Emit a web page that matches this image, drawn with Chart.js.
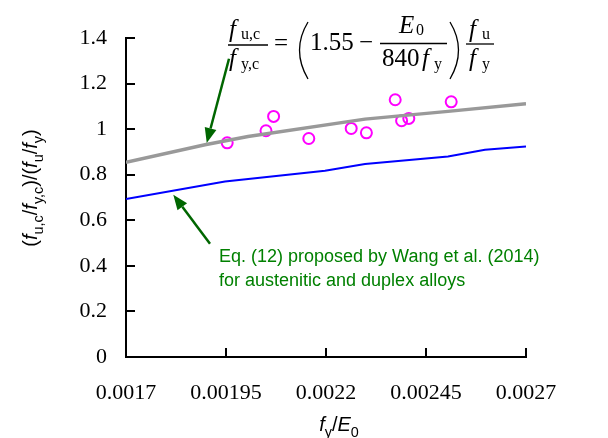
<!DOCTYPE html>
<html>
<head>
<meta charset="utf-8">
<script src="https://cdn.jsdelivr.net/npm/chart.js@4.4.1/dist/chart.umd.min.js"></script>
<style>
  html, body { margin: 0; padding: 0; background: #fff; }
  #wrap { width: 608px; height: 438px; }
</style>
</head>
<body>
<div id="wrap"><canvas id="myChart" width="608" height="438"></canvas></div>
<script>
// test results (f_y/E0 vs normalised ratio)
const testX = [0.001953, 0.00205, 0.002069, 0.002157, 0.002263, 0.002301, 0.002373, 0.002389, 0.002407, 0.002513];
const testY = [0.94, 0.993, 1.056, 0.959, 1.003, 0.984, 1.129, 1.037, 1.047, 1.12];

// proposed design curve (grey)
const newX = [0.0017, 0.0018975, 0.002005, 0.0022975, 0.002505, 0.0027];
const newY = [0.854, 0.9315, 0.968, 1.044, 1.078, 1.111];

// Wang et al. (2014) curve (blue)
const wangX = [0.0017, 0.0019475, 0.0021975, 0.0022975, 0.002505, 0.0025975, 0.0027];
const wangY = [0.693, 0.7705, 0.8175, 0.847, 0.880, 0.9096, 0.924];

const xTicks = [0.0017, 0.00195, 0.0022, 0.00245, 0.0027];
const xTickLabels = ['0.0017', '0.00195', '0.0022', '0.00245', '0.0027'];
const yTicks = [0, 0.2, 0.4, 0.6, 0.8, 1, 1.2, 1.4];
const yTickLabels = ['0', '0.2', '0.4', '0.6', '0.8', '1', '1.2', '1.4'];

// arrows: [tailX, tailY, tipX, tipY] in data units
const arrowNew = [0.0019575, 1.309, 0.0019018, 0.939];
const arrowWang = [0.00191, 0.497, 0.0018183, 0.712];

const pts = (xs, ys) => xs.map((x, i) => ({ x: x, y: ys[i] }));

const sans = '"Liberation Sans", Arial, sans-serif';
const serif = '"Liberation Serif", "Times New Roman", serif';

// draw a run of text pieces {t, it, sub}
function richText(ctx, parts, x, y, size, family, align) {
  const fontOf = p => (p.it ? 'italic ' : '') + (p.sub ? size * 0.72 : size) + 'px ' + family;
  let w = 0;
  parts.forEach(p => { ctx.font = fontOf(p); w += ctx.measureText(p.t).width; });
  let cx = align === 'center' ? x - w / 2 : x;
  ctx.textAlign = 'left';
  ctx.textBaseline = 'alphabetic';
  parts.forEach(p => {
    ctx.font = fontOf(p);
    ctx.fillText(p.t, cx, p.sub ? y + size * 0.28 : y);
    cx += ctx.measureText(p.t).width;
  });
  return w;
}

// single serif piece for the formula
function piece(ctx, str, x, y, size, italic) {
  ctx.font = (italic ? 'italic ' : '') + size + 'px ' + serif;
  ctx.textAlign = 'left';
  ctx.textBaseline = 'alphabetic';
  ctx.fillText(str, x, y);
}

function hline(ctx, x1, x2, y) {
  ctx.beginPath(); ctx.moveTo(x1, y); ctx.lineTo(x2, y); ctx.stroke();
}

function arrow(ctx, x1, y1, x2, y2) {
  const ang = Math.atan2(y2 - y1, x2 - x1);
  const len = 15, hw = 6;
  const bx = x2 - len * Math.cos(ang), by = y2 - len * Math.sin(ang);
  ctx.beginPath();
  ctx.moveTo(x1, y1);
  ctx.lineTo(bx, by);
  ctx.stroke();
  ctx.beginPath();
  ctx.moveTo(x2, y2);
  ctx.lineTo(bx + hw * Math.sin(ang), by - hw * Math.cos(ang));
  ctx.lineTo(bx - hw * Math.sin(ang), by + hw * Math.cos(ang));
  ctx.closePath();
  ctx.fill();
}

const extras = {
  id: 'extras',
  afterDraw(chart) {
    const ctx = chart.ctx;
    const xs = chart.scales.x, ys = chart.scales.y;
    const a = chart.chartArea;
    ctx.save();

    // inward tick marks
    ctx.strokeStyle = '#000';
    ctx.lineWidth = 2;
    xTicks.forEach(v => {
      const px = Math.round(xs.getPixelForValue(v));
      ctx.beginPath(); ctx.moveTo(px, a.bottom); ctx.lineTo(px, a.bottom - 9); ctx.stroke();
    });
    yTicks.forEach(v => {
      const py = Math.round(ys.getPixelForValue(v));
      ctx.beginPath(); ctx.moveTo(a.left, py); ctx.lineTo(a.left + 9, py); ctx.stroke();
    });

    // axis titles
    ctx.fillStyle = '#000';
    richText(ctx, [
      { t: 'f', it: true }, { t: 'y', sub: true }, { t: '/' }, { t: 'E', it: true }, { t: '0', sub: true }
    ], 339, 431, 20, sans, 'center');

    ctx.save();
    ctx.translate(37, 188);
    ctx.rotate(-Math.PI / 2);
    richText(ctx, [
      { t: '(' }, { t: 'f', it: true }, { t: 'u,c', sub: true }, { t: '/' },
      { t: 'f', it: true }, { t: 'y,c', sub: true }, { t: ')/(' },
      { t: 'f', it: true }, { t: 'u', sub: true }, { t: '/' },
      { t: 'f', it: true }, { t: 'y', sub: true }, { t: ')' }
    ], 0, 0, 20, sans, 'center');
    ctx.restore();

    // formula
    ctx.lineWidth = 1.3;
    piece(ctx, 'f', 229, 37, 25, true);
    piece(ctx, 'u,c', 241, 39, 16, false);
    hline(ctx, 228, 268, 45);
    piece(ctx, 'f', 229, 66, 25, true);
    piece(ctx, 'y,c', 241, 69, 16, false);
    piece(ctx, '=', 274, 51, 25, false);
    ctx.beginPath(); ctx.moveTo(308, 22); ctx.quadraticCurveTo(291, 50, 308, 79); ctx.stroke();
    piece(ctx, '1.55', 310, 50, 25, false);
    piece(ctx, '\u2212', 359, 50, 25, false);
    piece(ctx, 'E', 399, 33, 25, true);
    piece(ctx, '0', 416, 35, 16, false);
    hline(ctx, 380, 447, 43.5);
    piece(ctx, '840', 382, 66, 25, false);
    piece(ctx, 'f', 422, 66, 25, true);
    piece(ctx, 'y', 434, 69, 16, false);
    ctx.beginPath(); ctx.moveTo(450, 22); ctx.quadraticCurveTo(467, 50, 450, 79); ctx.stroke();
    piece(ctx, 'f', 469, 37, 25, true);
    piece(ctx, 'u', 482, 39, 16, false);
    hline(ctx, 466, 494, 44);
    piece(ctx, 'f', 469, 66, 25, true);
    piece(ctx, 'y', 482, 69, 16, false);

    // arrows
    ctx.strokeStyle = '#006600';
    ctx.fillStyle = '#006600';
    ctx.lineWidth = 2.5;
    [arrowNew, arrowWang].forEach(r => {
      arrow(ctx, xs.getPixelForValue(r[0]), ys.getPixelForValue(r[1]),
            xs.getPixelForValue(r[2]), ys.getPixelForValue(r[3]));
    });

    // label for Wang curve
    ctx.fillStyle = '#008000';
    ctx.font = '18px ' + sans;
    ctx.textAlign = 'left';
    ctx.fillText('Eq. (12) proposed by Wang et al. (2014)', 219, 262);
    ctx.fillText('for austenitic and duplex alloys', 219, 286);

    ctx.restore();
  }
};

const ctx = document.getElementById('myChart').getContext('2d');
new Chart(ctx, {
  type: 'scatter',
  data: {
    datasets: [
      {
        label: 'Wang',
        data: pts(wangX, wangY),
        showLine: true,
        borderColor: '#0000ff',
        borderWidth: 2,
        pointRadius: 0,
        tension: 0,
        fill: false
      },
      {
        label: 'Proposed',
        data: pts(newX, newY),
        showLine: true,
        borderColor: '#999999',
        borderWidth: 3.5,
        pointRadius: 0,
        tension: 0,
        fill: false
      },
      {
        label: 'Tests',
        data: pts(testX, testY),
        showLine: false,
        pointStyle: 'circle',
        pointRadius: 5.5,
        pointBorderWidth: 2,
        pointBorderColor: '#ff00ff',
        pointBackgroundColor: 'rgba(0,0,0,0)'
      }
    ]
  },
  options: {
    responsive: false,
    animation: false,
    layout: { padding: { left: 0, right: 82, top: 38, bottom: 0 } },
    scales: {
      x: {
        type: 'linear',
        min: 0.0017,
        max: 0.0027,
        afterBuildTicks: s => { s.ticks = xTicks.map(v => ({ value: v })); },
        afterFit: s => { s.height = 81; },
        ticks: {
          callback: (v, i) => xTickLabels[i],
          font: { family: serif, size: 22 },
          color: '#000',
          padding: 23,
          maxRotation: 0
        },
        grid: { display: true, drawOnChartArea: false, drawTicks: false },
        border: { display: true, color: '#000', width: 2 }
      },
      y: {
        type: 'linear',
        min: 0,
        max: 1.4,
        afterBuildTicks: s => { s.ticks = yTicks.map(v => ({ value: v })); },
        afterFit: s => { s.width = 126; },
        ticks: {
          callback: (v, i) => yTickLabels[i],
          font: { family: serif, size: 22 },
          color: '#000',
          padding: 19
        },
        grid: { display: true, drawOnChartArea: false, drawTicks: false },
        border: { display: true, color: '#000', width: 2 }
      }
    },
    plugins: {
      legend: { display: false },
      tooltip: { enabled: false }
    }
  },
  plugins: [extras]
});
</script>
</body>
</html>
